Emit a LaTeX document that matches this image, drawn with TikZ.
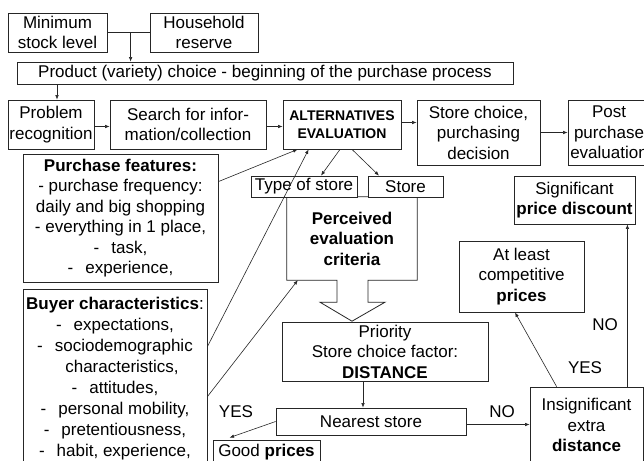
\documentclass[tikz,border=0pt]{standalone}
\usepackage{fontspec}
\setmainfont{Liberation Sans}
\usetikzlibrary{arrows.meta,calc}
\begin{document}
\begin{tikzpicture}[x=1pt,y=-1pt,
 box/.style={draw=black!85, line width=0.8pt, fill=white, inner sep=0pt, align=center, font=\fontsize{17}{20.5}\selectfont},
 arr/.style={draw=black!85, line width=0.6pt, -{Latex[length=4.5pt,width=3.5pt]}},
 ln/.style={draw=black!85, line width=0.6pt},
 lbl/.style={inner sep=0pt, font=\fontsize{17}{20.5}\selectfont}]
\useasboundingbox (0,0) rectangle (644,460);
\clip (0,0) rectangle (644,460);
\fill[white] (0,0) rectangle (644,460);

% top row
\node[box, minimum width=99pt, minimum height=39pt] (min) at (57.5,32.5) {Minimum\\stock level};
\node[box, minimum width=108pt, minimum height=39pt] (hh) at (204,32.5) {Household\\reserve};
\node[box, minimum width=496pt, minimum height=22pt] (prod) at (265,73) {Product (variety) choice - beginning of the purchase process};

% process row
\node[box, minimum width=86pt, minimum height=49pt] (prob) at (51,124.5) {Problem\\recognition};
\node[box, minimum width=156pt, minimum height=49pt] (search) at (188,124.5) {Search for infor-\\mation/collection};
\node[box, minimum width=118pt, minimum height=49pt, font=\bfseries\fontsize{14}{18.5}\selectfont] (alt) at (342,124.5) {ALTERNATIVES\\EVALUATION};
\node[box, minimum width=123pt, minimum height=65pt] (sc) at (478.5,132.5) {Store choice,\\purchasing\\decision};
\node[box, minimum width=82pt, minimum height=65pt] (post) at (609,132.5) {Post\\purchase\\evaluation};

% left boxes
\node[box, minimum width=195pt, minimum height=128pt] (pf) at (120.5,218) {\textbf{Purchase features:}\\ - purchase frequency:\\daily and big shopping\\- everything in 1 place,\\-\hspace{12pt}task,\\-\hspace{12pt}experience,};
\node[box, minimum width=184pt, minimum height=179pt, font=\fontsize{17}{21}\selectfont] (bc) at (115,378.5) {\textbf{Buyer characteristics}:\\-\hspace{12pt}expectations,\\-\hspace{12pt}sociodemographic\\\hspace{14pt}characteristics,\\-\hspace{12pt}attitudes,\\-\hspace{12pt}personal mobility,\\-\hspace{12pt}pretentiousness,\\-\hspace{12pt}habit, experience,};

% perceived criteria with block arrow
\node[inner sep=0pt, minimum width=130pt, minimum height=83pt, align=center, font=\bfseries\fontsize{17}{20.5}\selectfont] (pec) at (352,238.5) {Perceived\\evaluation\\criteria};
\draw[draw=black!85, line width=0.8pt] (pec.south west) -- (pec.north west) -- (pec.north east) -- (pec.south east)
  -- ([xshift=16pt]pec.south) -- ([shift={(16pt,-22pt)}]pec.south) -- ([shift={(33pt,-22pt)}]pec.south)
  -- ([yshift=-41pt]pec.south) -- ([shift={(-32pt,-22pt)}]pec.south) -- ([shift={(-15pt,-22pt)}]pec.south)
  -- ([xshift=-15pt]pec.south) -- cycle;
\node[box, minimum width=106pt, minimum height=21pt] (tos) at (304,186.5) {Type of store};
\node[box, minimum width=75pt, minimum height=21pt] (st) at (405.5,186.5) {Store};

% distance chain
\node[box, minimum width=206pt, minimum height=59pt] (prio) at (385,351.5) {Priority\\Store choice factor:\\\textbf{DISTANCE}};
\node[box, minimum width=190pt, minimum height=27pt] (near) at (371,421.5) {Nearest store};
\node[box, minimum width=113pt, minimum height=76pt] (ins) at (586.5,425) {Insignificant\\extra\\\textbf{distance}};
\node[box, minimum width=121pt, minimum height=48pt] (sig) at (574.5,200) {Significant\\\textbf{price discount}};
\node[box, minimum width=125pt, minimum height=71pt] (alc) at (521.5,276.5) {At least\\competitive\\\textbf{prices}};
\node[box, minimum width=107pt, minimum height=24pt] (good) at (266.5,452) {Good \textbf{prices}};

% labels
\node[lbl] (yes1) at (236,412) {YES};
\node[lbl] (no1) at (502,412) {NO};
\node[lbl] (no2) at (605,325) {NO};
\node[lbl] (yes2) at (585,368) {YES};

% connectors
\draw[ln] (min.east) -- (hh.west);
\coordinate (j) at ($(min.east)!0.55!(hh.west)$);
\draw[arr] (j) -- (j |- prod.north);
\draw[arr] ([xshift=6pt]prob.north |- prod.south) -- ([xshift=6pt]prob.north);
\draw[arr] ([yshift=-2pt]prob.east) -- ([yshift=-2pt]prob.east -| search.west);
\draw[arr] ([yshift=-2pt]search.east) -- ([yshift=-2pt]search.east -| alt.west);
\draw[arr] ([yshift=2pt]alt.east) -- ([yshift=2pt]alt.east -| sc.west);
\draw[arr] (sc.east) -- (sc.east -| post.west);
\draw[arr] ([xshift=-2pt]alt.south) -- ([xshift=17pt]tos.north);
\draw[arr] ([xshift=10pt]alt.south) -- ([xshift=-26.5pt]st.north);
\draw[arr] ([yshift=-28pt]pf.north east) -- ([xshift=15pt]alt.south west);
\draw[arr] ([yshift=-58pt]bc.north east) -- ([xshift=26pt]alt.south west);
\draw[arr] ([yshift=-108pt]bc.north east) -- ([xshift=11pt]pec.south west);
\draw[arr] ([xshift=-8pt]near.north |- prio.south) -- ([xshift=-8pt]near.north);
\draw[arr] ([yshift=-3pt]near.east) -- ([yshift=-3pt]near.east -| ins.west);
\draw[arr] ([xshift=-16pt]ins.north east) -- ([xshift=-16pt]ins.north east |- sig.south);
\draw[arr] ([xshift=27pt]ins.north west) -- ([xshift=-6.5pt]alc.south);
\draw[arr] (near.west) -- ([xshift=17pt,yshift=2pt]good.north west);
\end{tikzpicture}
\end{document}
